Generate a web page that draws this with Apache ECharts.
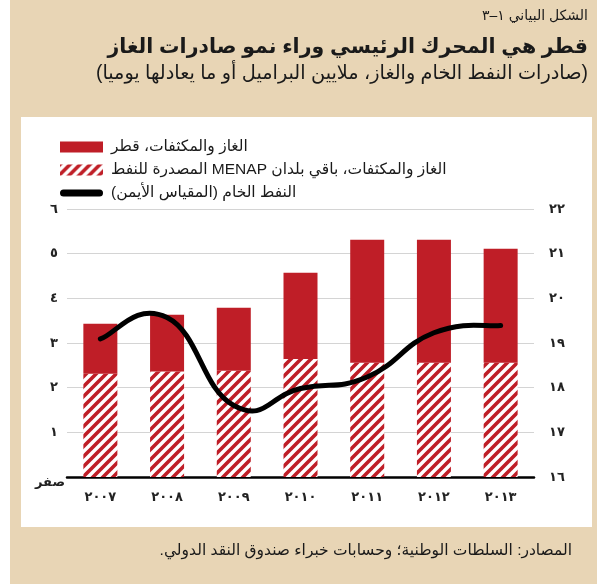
<!DOCTYPE html>
<html>
<head>
<meta charset="utf-8">
<script src="https://cdn.jsdelivr.net/npm/echarts@6/dist/echarts.min.js"></script>
<style>
  html, body { margin: 0; padding: 0; background: #fff; }
  #chart { width: 597px; height: 584px; direction: rtl; }
</style>
</head>
<body>
<div id="chart"></div>
<script>
// Gas, condensates and crude oil exports, million barrels (or equivalent) per day
const years = ['٢٠٠٧', '٢٠٠٨', '٢٠٠٩', '٢٠١٠', '٢٠١١', '٢٠١٢', '٢٠١٣'];
const otherMenapGas = [2.31, 2.36, 2.38, 2.64, 2.56, 2.56, 2.56];
const qatarGas = [1.12, 1.27, 1.41, 1.93, 2.75, 2.75, 2.55];
const crudeOil = [19.09, 19.57, 17.6, 17.98, 18.24, 19.23, 19.39];

const leftTicks = ['صفر', '١', '٢', '٣', '٤', '٥', '٦'];
const rightTicks = ['١٦', '١٧', '١٨', '١٩', '٢٠', '٢١', '٢٢'];

const seriesNames = [
  'الغاز والمكثفات، قطر',
  'الغاز والمكثفات، باقي بلدان MENAP المصدرة للنفط',
  'النفط الخام (المقياس الأيمن)'
];

const RED = '#bf1e27';
const FONT = '"Liberation Sans", "DejaVu Sans", sans-serif';
const TENSION = 0.24;

// Diagonal red stripes on white for the non-Qatar gas bars
function stripeTile() {
  const c = document.createElement('canvas');
  c.width = 10; c.height = 10;
  const g = c.getContext('2d');
  g.fillStyle = '#fff';
  g.fillRect(0, 0, 10, 10);
  g.strokeStyle = RED;
  g.lineWidth = 3.6;
  g.lineCap = 'square';
  [[-5, 5, 5, -5], [0, 10, 10, 0], [5, 15, 15, 5]].forEach(([x0, y0, x1, y1]) => {
    g.beginPath(); g.moveTo(x0, y0); g.lineTo(x1, y1); g.stroke();
  });
  return c;
}
const stripes = { image: stripeTile(), repeat: 'repeat' };

// Cardinal-spline path through the crude-oil points (pixel positions from the axes)
function splinePath(pts) {
  let d = 'M' + pts[0][0] + ',' + pts[0][1];
  for (let i = 0; i < pts.length - 1; i++) {
    const p0 = pts[Math.max(i - 1, 0)];
    const p1 = pts[i];
    const p2 = pts[i + 1];
    const p3 = pts[Math.min(i + 2, pts.length - 1)];
    const c1x = p1[0] + (p2[0] - p0[0]) * TENSION;
    const c1y = p1[1] + (p2[1] - p0[1]) * TENSION;
    const c2x = p2[0] - (p3[0] - p1[0]) * TENSION;
    const c2y = p2[1] - (p3[1] - p1[1]) * TENSION;
    d += ' C' + c1x + ',' + c1y + ' ' + c2x + ',' + c2y + ' ' + p2[0] + ',' + p2[1];
  }
  return d;
}

const chart = echarts.init(document.getElementById('chart'), null, { renderer: 'canvas' });

chart.setOption({
  backgroundColor: '#fff',
  animation: false,
  textStyle: { fontFamily: FONT },
  graphic: [
    { type: 'rect', z: -10, silent: true,
      shape: { x: 10, y: 0, width: 587, height: 584 }, style: { fill: '#e8d5b5' } },
    { type: 'rect', z: -9, silent: true,
      shape: { x: 21, y: 117, width: 571, height: 410 }, style: { fill: '#fff' } }
  ],
  title: [
    { text: 'الشكل البياني ١–٣', right: 9, top: 9, padding: 0,
      textStyle: { fontFamily: FONT, fontSize: 14, fontWeight: 'normal', color: '#1a1a1a' } },
    { text: 'قطر هي المحرك الرئيسي وراء نمو صادرات الغاز', right: 9, top: 37, padding: 0,
      textStyle: { fontFamily: FONT, fontSize: 20.5, fontWeight: 'bold', color: '#1a1a1a' } },
    { text: '(صادرات النفط الخام والغاز، ملايين البراميل أو ما يعادلها يوميا)', right: 9, top: 64, padding: 0,
      textStyle: { fontFamily: FONT, fontSize: 19.3, fontWeight: 'normal', color: '#1a1a1a' } },
    { text: 'المصادر: السلطات الوطنية؛ وحسابات خبراء صندوق النقد الدولي.', right: 25, top: 543, padding: 0,
      textStyle: { fontFamily: FONT, fontSize: 15.5, fontWeight: 'normal', color: '#1a1a1a' } }
  ],
  legend: {
    orient: 'vertical',
    left: 55,
    top: 134,
    itemWidth: 43,
    itemHeight: 11,
    itemGap: 7,
    selectedMode: false,
    textStyle: { fontFamily: FONT, fontSize: 15.5, color: '#1a1a1a', padding: [0, 0, 0, 3] },
    data: [
      { name: seriesNames[0], icon: 'rect' },
      { name: seriesNames[1], icon: 'rect' },
      { name: seriesNames[2],
        icon: 'path://M3.5,0 L39.5,0 A3.5,3.5 0 0 1 39.5,7 L3.5,7 A3.5,3.5 0 0 1 3.5,0 Z',
        itemStyle: { color: '#000' } }
    ]
  },
  grid: { left: 67, right: 63, top: 209, bottom: 107 },
  xAxis: {
    type: 'category',
    data: years,
    axisLine: { lineStyle: { color: '#000', width: 2.5 } },
    axisTick: { inside: true, length: 5, lineStyle: { color: '#000', width: 1.5 } },
    axisLabel: { margin: 14, fontSize: 13, fontWeight: 'bold', color: '#222', fontFamily: FONT },
    splitLine: { show: false }
  },
  yAxis: [
    {
      type: 'value', min: 0, max: 6, interval: 1, position: 'left',
      axisLine: { show: false }, axisTick: { show: false },
      axisLabel: {
        margin: 9, fontSize: 13, fontWeight: 'bold', color: '#222', fontFamily: FONT,
        formatter: v => (v === 0 ? '{z|' + leftTicks[0] + '}' : leftTicks[v]),
        rich: { z: { fontSize: 13, fontWeight: 'bold', color: '#222', fontFamily: FONT, padding: [10, -7, 0, 0] } }
      },
      splitLine: { lineStyle: { color: '#d4d4d4', width: 1 } }
    },
    {
      type: 'value', min: 16, max: 22, interval: 1, position: 'right',
      axisLine: { show: false }, axisTick: { show: false },
      axisLabel: { margin: 15, fontSize: 13, fontWeight: 'bold', color: '#222', fontFamily: FONT,
        formatter: v => rightTicks[v - 16] },
      splitLine: { show: false }
    }
  ],
  series: [
    {
      name: seriesNames[1], type: 'bar', stack: 'gas', yAxisIndex: 0,
      barWidth: 34, data: otherMenapGas,
      itemStyle: { color: stripes }
    },
    {
      name: seriesNames[0], type: 'bar', stack: 'gas', yAxisIndex: 0,
      barWidth: 34, data: qatarGas,
      itemStyle: { color: RED }
    },
    {
      name: seriesNames[2], type: 'custom', yAxisIndex: 1, z: 5,
      data: crudeOil.map((v, i) => [i, v]),
      encode: { x: 0, y: 1 },
      itemStyle: { color: '#000' },
      renderItem: (params, api) => {
        if (params.dataIndex !== 0) return null;
        const pts = crudeOil.map((v, i) => api.coord([i, v]));
        return {
          type: 'path',
          shape: { pathData: splinePath(pts) },
          style: { fill: 'none', stroke: '#000', lineWidth: 5, lineCap: 'round', lineJoin: 'round' }
        };
      }
    }
  ]
});
</script>
</body>
</html>
